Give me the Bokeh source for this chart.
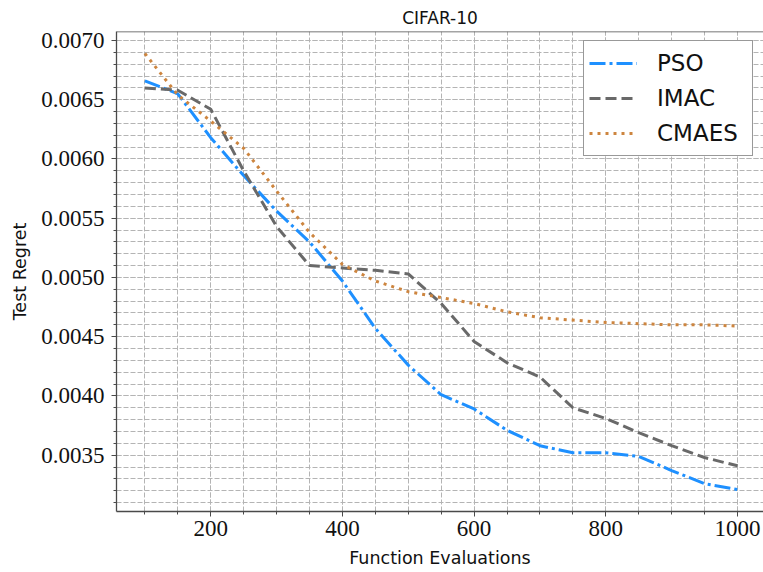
from bokeh.plotting import figure
from bokeh.models import Range1d, SingleIntervalTicker, PrintfTickFormatter, Span, Legend, Title
from bokeh.embed import file_html
from bokeh.resources import INLINE

evals = [100, 150, 200, 250, 300, 350, 400, 450, 500, 550, 600, 650, 700, 750, 800, 850, 900, 950, 1000]
pso = [0.00666, 0.00655, 0.00618, 0.00586, 0.00556, 0.00530, 0.00497, 0.00457, 0.00426, 0.00401,
       0.00389, 0.00371, 0.00358, 0.00352, 0.00352, 0.00349, 0.00337, 0.00326, 0.00321]
imac = [0.00660, 0.00658, 0.00642, 0.00590, 0.00543, 0.00510, 0.00508, 0.00506, 0.00503, 0.00478,
        0.00446, 0.00428, 0.00416, 0.00390, 0.00381, 0.00369, 0.00358, 0.00348, 0.00341]
cmaes = [0.00689, 0.00654, 0.00632, 0.00609, 0.00573, 0.00538, 0.00511, 0.00497, 0.00488, 0.00483,
         0.00478, 0.00471, 0.00466, 0.00464, 0.00462, 0.00461, 0.00460, 0.00460, 0.00459]

x_lim = (56.9, 1039.5)
y_lim = (0.0030245, 0.007076)

p = figure(width=763, height=572, output_backend="svg", toolbar_location=None,
           x_range=Range1d(*x_lim), y_range=Range1d(*y_lim),
           min_border_left=116, min_border_right=0, min_border_top=31, min_border_bottom=61)
p.outline_line_color = None
p.background_fill_color = "white"
p.border_fill_color = "white"

title = Title(text="CIFAR-10", align="center", text_font="DejaVu Sans", text_font_size="17px",
              text_font_style="normal", text_color="#111111", standoff=8)
p.add_layout(title, "above")

p.xaxis.ticker = SingleIntervalTicker(interval=200, num_minor_ticks=4)
p.yaxis.ticker = SingleIntervalTicker(interval=0.0005, num_minor_ticks=5)
p.yaxis.formatter = PrintfTickFormatter(format="%.4f")

for ax in (p.xaxis, p.yaxis):
    ax.axis_line_color = "#4a4a4a"
    ax.axis_line_width = 1.3
    ax.major_tick_line_color = "#4a4a4a"
    ax.minor_tick_line_color = "#4a4a4a"
    ax.major_tick_out = 5
    ax.major_tick_in = 0
    ax.minor_tick_out = 3
    ax.minor_tick_in = 0
    ax.major_label_text_font = "Liberation Serif"
    ax.major_label_text_font_size = "23px"
    ax.major_label_text_color = "#111111"
    ax.axis_label_text_font = "DejaVu Sans"
    ax.axis_label_text_font_size = "17.5px"
    ax.axis_label_text_font_style = "normal"
    ax.axis_label_text_color = "#111111"

p.xaxis.axis_label = "Function Evaluations"
p.yaxis.axis_label = "Test Regret"
p.xaxis.major_label_standoff = 4
p.yaxis.major_label_standoff = 7
p.xaxis.axis_label_standoff = 9
p.yaxis.axis_label_standoff = 8

for g in (p.xgrid, p.ygrid):
    g.grid_line_color = "#b4b4b4"
    g.grid_line_dash = "5 2"
    g.grid_line_width = 1
    g.minor_grid_line_color = "#b4b4b4"
    g.minor_grid_line_dash = "5 2"
    g.minor_grid_line_width = 1

top_spine = Span(location=y_lim[1], dimension="width", line_color="#4a4a4a", line_width=1.3)
p.add_layout(top_spine)

r1 = p.line(evals, pso, line_color="#1E90FF", line_width=3, line_dash="16 4 3 4")
r2 = p.line(evals, imac, line_color="#696969", line_width=3, line_dash="11 5")
r3 = p.line(evals, cmaes, line_color="#CD853F", line_width=3, line_dash="3 5")

legend = Legend(items=[("PSO", [r1]), ("IMAC", [r2]), ("CMAES", [r3])],
                location=(467, 355))
legend.label_text_font = "DejaVu Sans"
legend.label_text_font_size = "23px"
legend.label_text_color = "#111111"
legend.glyph_width = 48
legend.glyph_height = 34
legend.label_height = 34
legend.label_width = 90
legend.label_standoff = 20
legend.spacing = 1
legend.padding = 5
legend.margin = 0
legend.border_line_color = "#333333"
legend.border_line_width = 1
legend.background_fill_color = "white"
legend.background_fill_alpha = 1.0
p.add_layout(legend, "center")

open("out.html", "w").write(file_html(p, INLINE))
